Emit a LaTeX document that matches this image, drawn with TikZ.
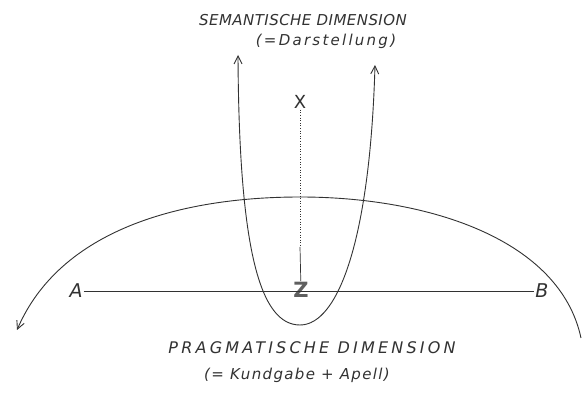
\documentclass[tikz,border=0pt]{standalone}
\usepackage{fontspec}
\setsansfont{DejaVu Sans}
\usetikzlibrary{arrows.meta,positioning}
\definecolor{inkgray}{RGB}{50,50,50}
\definecolor{markgray}{RGB}{95,95,95}

\begin{document}
\begin{tikzpicture}[
    x=1pt,y=-1pt,
    hand/.style={font=\sffamily\itshape\fontsize{15}{17}\selectfont\addfontfeature{LetterSpace=#1},text=inkgray,inner sep=0pt},
    letter/.style={font=\sffamily\itshape\fontsize{19}{21}\selectfont,text=inkgray,inner sep=1pt},
    stroke/.style={draw=inkgray,line width=0.9pt},
    arrow/.style={stroke,-{Straight Barb[length=2.8mm,width=2.8mm]}}
  ]
    \useasboundingbox[fill=white] (0,0) rectangle (582,398);

    \node[hand=3] (sem) at (303,20) {SEMANTISCHE DIMENSION};
    \node[hand=15,below=8pt of sem.south,anchor=north,xshift=23pt] (sem2) {(=Darstellung)};
    \node[hand=22,font=\sffamily\itshape\fontsize{16}{18}\selectfont\addfontfeature{LetterSpace=20}] (prag) at (312,348) {PRAGMATISCHE DIMENSION};
    \node[hand=9,below=14pt of prag.south,anchor=north,xshift=-15pt] (prag2) {(= Kundgabe + Apell)};

    \node[letter,font=\sffamily\fontsize{18}{20}\selectfont] (X) at (300,102) {X};
    \node[font=\sffamily\bfseries\fontsize{21}{23}\selectfont,text=markgray,inner sep=1pt] (Z) at (301,290) {Z};
    \node[letter] (A) at (76,291) {A};
    \node[letter] (B) at (542,291) {B};
    \coordinate (xz) at (300,247);

    \coordinate (semL) at (238,55);
    \coordinate (semR) at (375,65);
    \coordinate (bottom) at (300,325);
    \coordinate (pragL) at (17,330);
    \coordinate (top) at (300,197);
    \coordinate (pragR) at (581,338);

    \draw[stroke,line width=0.7pt] (A) -- (B);
    \draw[stroke,line width=0.6pt,dotted] (X) -- (xz);
    \draw[stroke,line width=0.7pt] (xz) -- (Z);

    \draw[arrow] (bottom) .. controls (260,325) and (239,250) .. (semL);
    \draw[arrow] (bottom) .. controls (338,325) and (370,240) .. (semR);

    \draw[arrow] (top) .. controls (180,197) and (60,230) .. (pragL);
    \draw[stroke] (top) .. controls (430,197) and (560,240) .. (pragR);
\end{tikzpicture}
\end{document}
